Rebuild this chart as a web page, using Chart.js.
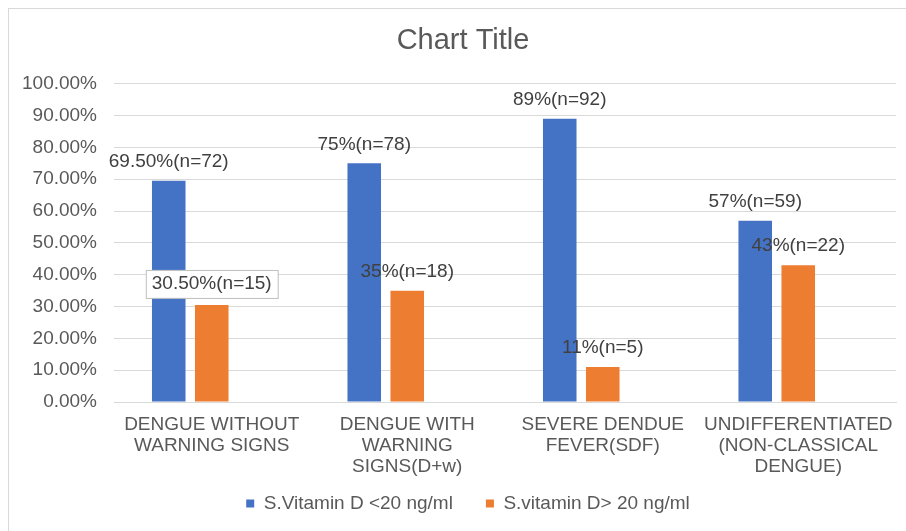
<!DOCTYPE html>
<html>
<head>
<meta charset="utf-8">
<script src="https://cdn.jsdelivr.net/npm/chart.js@4/dist/chart.umd.min.js"></script>
<style>
    body { margin: 0; background: #fff; }
    #wrap { position: relative; width: 906px; height: 531px; }
    #frame {
        position: absolute; left: 8px; top: 8px; right: -2px; bottom: -2px;
        border-left: 1px solid #d9d9d9; border-top: 1px solid #d9d9d9;
        pointer-events: none;
    }
</style>
</head>
<body>
<div id="wrap">
    <canvas id="grafico"></canvas>
    <div id="frame"></div>
</div>
<script>
const categorias = [
    ["DENGUE WITHOUT", "WARNING SIGNS"],
    ["DENGUE WITH", "WARNING", "SIGNS(D+w)"],
    ["SEVERE DENDUE", "FEVER(SDF)"],
    ["UNDIFFERENTIATED", "(NON-CLASSICAL", "DENGUE)"]
];
const serieBaixa = [69.5, 75, 89, 57];
const serieAlta  = [30.5, 35, 11, 43];
const rotulosBaixa = ["69.50%(n=72)", "75%(n=78)", "89%(n=92)", "57%(n=59)"];
const rotulosAlta  = ["30.50%(n=15)", "35%(n=18)", "11%(n=5)", "43%(n=22)"];
const nomesSeries = ["S.Vitamin D <20 ng/ml", "S.vitamin D> 20 ng/ml"];

const fonte = "'Liberation Sans', Arial, sans-serif";

// rótulos de dados desenhados acima de cada barra
const rotulosPlugin = {
    id: "rotulos",
    afterDatasetsDraw(chart) {
        const ctx = chart.ctx;
        const textos = [rotulosBaixa, rotulosAlta];
        ctx.save();
        ctx.font = "19px " + fonte;
        ctx.textAlign = "center";
        ctx.textBaseline = "middle";
        textos.forEach((lista, ds) => {
            const meta = chart.getDatasetMeta(ds);
            meta.data.forEach((bar, i) => {
                let y = bar.y - 19;
                if (ds === 1 && i === 0) {
                    // rótulo com caixa (primeiro laranja)
                    y = bar.y - 21;
                    const w = ctx.measureText(lista[i]).width + 12;
                    ctx.fillStyle = "#fff";
                    ctx.strokeStyle = "#bfbfbf";
                    ctx.lineWidth = 1;
                    ctx.fillRect(bar.x - w / 2, y - 14, w, 28);
                    ctx.strokeRect(bar.x - w / 2 + 0.5, y - 13.5, w, 28);
                }
                ctx.fillStyle = "#404040";
                ctx.fillText(lista[i], bar.x, y);
            });
        });
        ctx.restore();
    }
};

// ajustes finos depois do layout: 3a linha dos rótulos do eixo x e centralização
const ajustePlugin = {
    id: "ajuste",
    afterLayout(chart) {
        chart.scales.x.bottom += 22;
        chart.legend.left += 20;
        chart.legend.right += 20;
        chart.titleBlock.left += 15;
        chart.titleBlock.right += 15;
    }
};

new Chart(document.getElementById("grafico"), {
    type: "bar",
    data: {
        labels: categorias,
        datasets: [
            { label: nomesSeries[0], data: serieBaixa, backgroundColor: "#4472C4" },
            { label: nomesSeries[1], data: serieAlta, backgroundColor: "#ED7D31" },
            { label: "", data: [null, null, null, null], backgroundColor: "#A5A5A5" }
        ]
    },
    options: {
        responsive: true,
        maintainAspectRatio: false,
        animation: false,
        categoryPercentage: 0.66,
        barPercentage: 0.78,
        layout: { padding: { left: 0, right: 10, top: 8, bottom: 8 } },
        plugins: {
            tooltip: { enabled: false },
            title: {
                display: true,
                text: "Chart Title",
                color: "#595959",
                font: { family: fonte, size: 29, weight: "normal", lineHeight: 1.2 },
                padding: { top: 16, bottom: 25 }
            },
            legend: {
                position: "bottom",
                labels: {
                    color: "#595959",
                    font: { family: fonte, size: 19 },
                    boxWidth: 8,
                    boxHeight: 8,
                    padding: 33,
                    filter: item => item.datasetIndex < 2
                }
            }
        },
        scales: {
            x: {
                grid: { display: false },
                border: { color: "#d9d9d9" },
                ticks: {
                    color: "#595959",
                    font: { family: fonte, size: 19, lineHeight: 1.12 },
                    maxRotation: 0,
                    autoSkip: false,
                    padding: 4
                },
                afterFit: s => { s.height = 59; }
            },
            y: {
                min: 0,
                max: 100,
                ticks: {
                    stepSize: 10,
                    color: "#595959",
                    font: { family: fonte, size: 19 },
                    padding: 17,
                    callback: v => v.toFixed(2) + "%"
                },
                grid: { color: "#d9d9d9", drawTicks: false },
                border: { display: false },
                afterFit: s => { s.width = 114; }
            }
        }
    },
    plugins: [rotulosPlugin, ajustePlugin]
});
</script>
</body>
</html>
